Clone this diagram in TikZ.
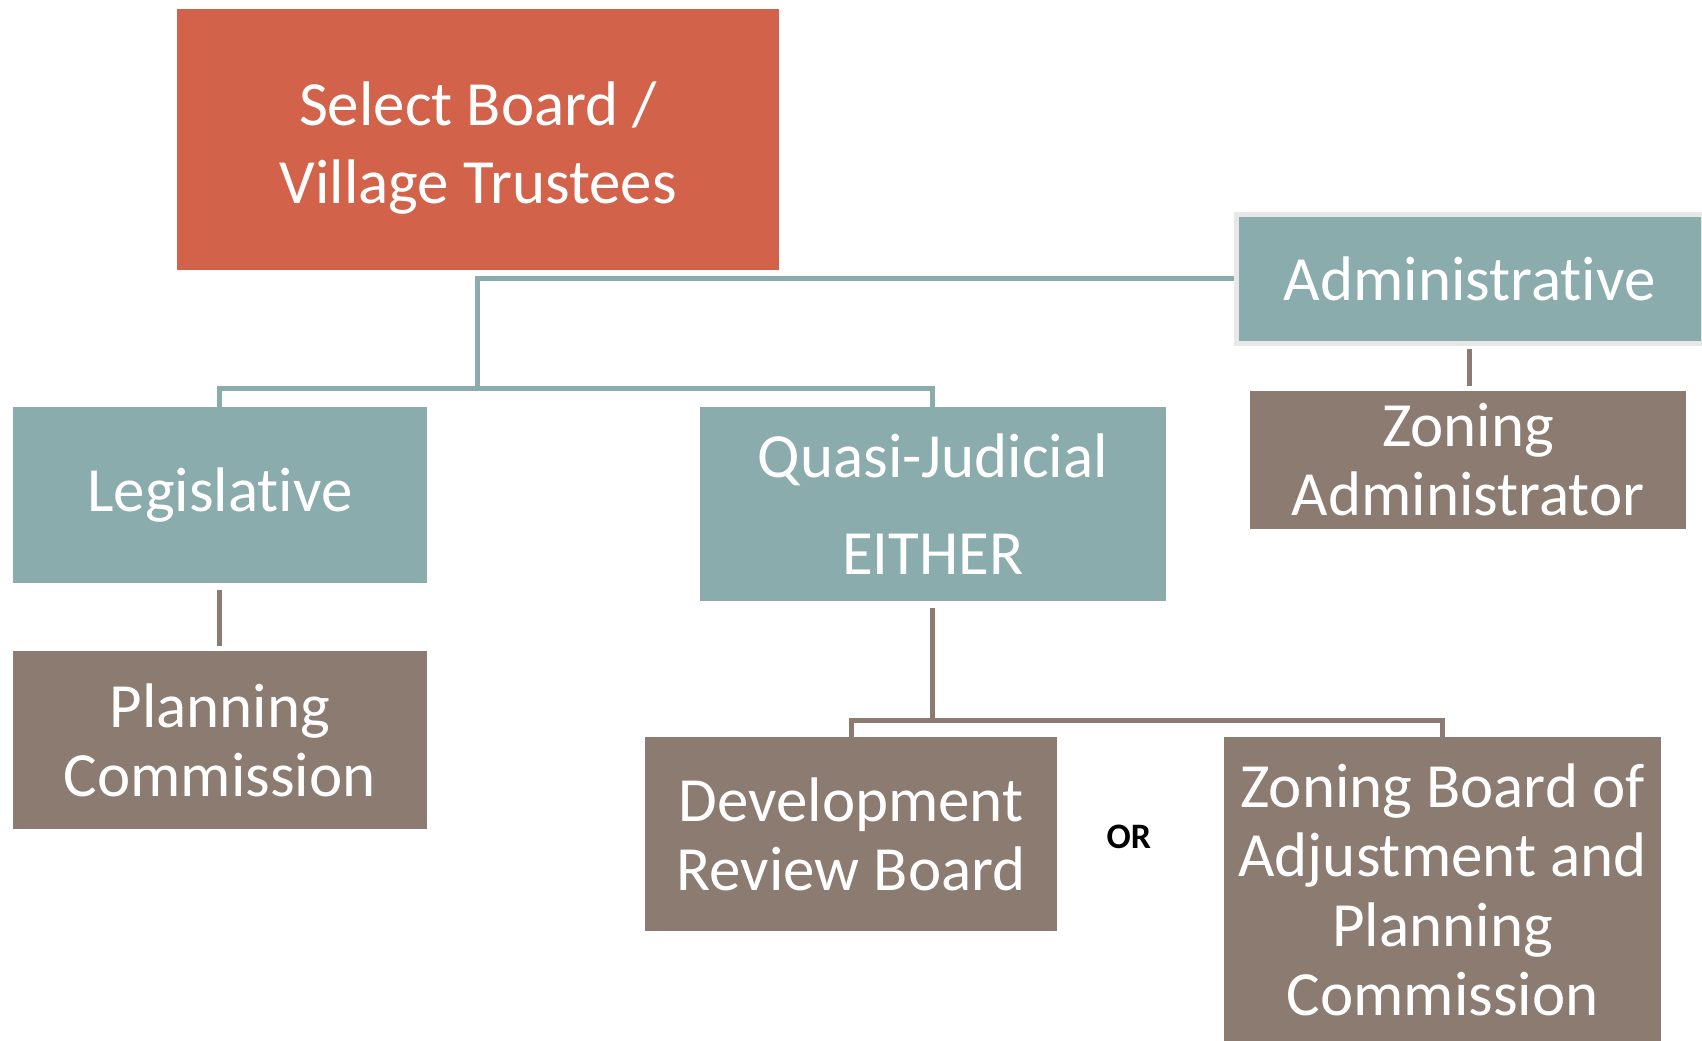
\documentclass[tikz,border=0pt]{standalone}
\usepackage{fontspec}
\setmainfont{Carlito}[Ligatures=NoCommon]
\definecolor{boardred}{HTML}{D2634A}
\definecolor{branchteal}{HTML}{8BACAD}
\definecolor{officebrown}{HTML}{8C7B70}
\tikzset{
  box/.style={align=center, text=white, inner sep=0pt, font=\fontsize{58}{64}\selectfont},
  board/.style={box, fill=boardred, font=\fontsize{58}{72}\selectfont},
  branch/.style={box, fill=branchteal},
  office/.style={box, fill=officebrown},
  tealline/.style={draw=branchteal, line width=4.6pt},
  brownline/.style={draw=officebrown, line width=4.6pt}
}

\begin{document}
\begin{tikzpicture}[x=1pt, y=-1pt]
\useasboundingbox (0,0) rectangle (1568,959);
\node[board, minimum width=555pt, minimum height=241pt] (sb) at (440.5,128.5) {\rule{0pt}{56pt}Select Board /\\Village Trustees};
\node[branch, minimum width=430pt, minimum height=118pt, draw=black!9, line width=4.6pt] (adm) at (1354,257) {Administrative};
\node[branch, minimum width=381pt, minimum height=162pt] (leg) at (202.5,456) {Legislative};
\node[branch, minimum width=429pt, minimum height=179pt] (qj) at (859.5,464.5) {Quasi-Judicial\\[26pt]EITHER};
\node[office, minimum width=401pt, minimum height=127pt] (za) at (1352.5,423.5) {Zoning\\Administrator};
\node[office, minimum width=381pt, minimum height=164pt] (pc) at (202.5,682) {Planning\\Commission};
\node[office, minimum width=380pt, minimum height=179pt] (drb) at (784,768.5) {Development\\Review Board};
\node[office, minimum width=402pt, minimum height=282pt] (zba) at (1329,820) {Zoning Board of\\Adjustment and\\Planning\\Commission};
\node[font=\bfseries\fontsize{33}{33}\selectfont] (or) at (1040,771) {OR};

% teal branches
\coordinate (split) at (440,358);
\draw[tealline] (adm.west) -| (split);
\draw[tealline] (leg.north) |- (split) -| (qj.north);

% brown offices
\draw[brownline, shorten <=3pt, shorten >=4pt] (adm.south) -- (adm.south |- za.north);
\draw[brownline, shorten <=6pt, shorten >=5pt] (leg) -- (pc);
\path (qj.south) ++(0,110) coordinate (fork);
\draw[brownline, shorten <=6pt] (qj.south) -- (fork);
\draw[brownline] (drb.north) |- (fork) -| (zba.north);
\end{tikzpicture}
\end{document}
